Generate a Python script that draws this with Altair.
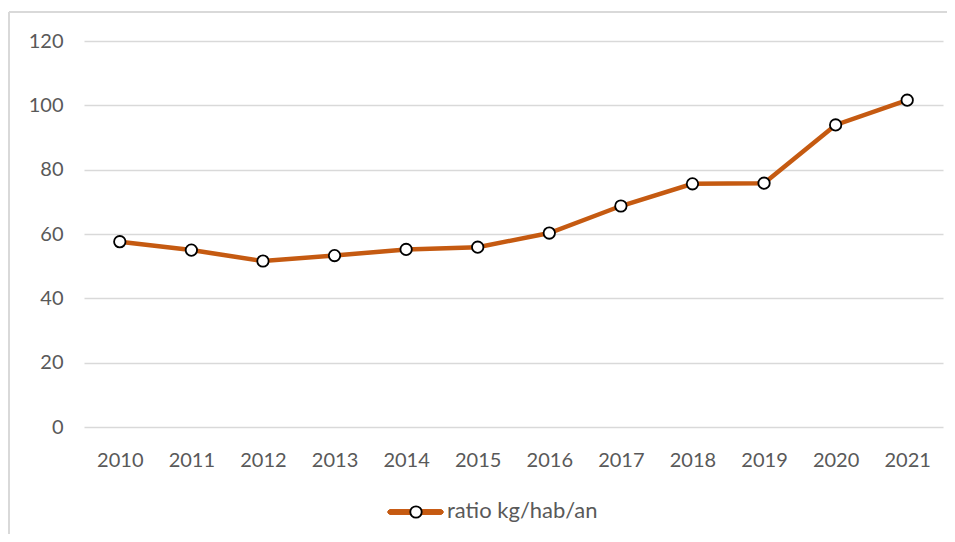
import altair as alt
import pandas as pd

years = ["2010", "2011", "2012", "2013", "2014", "2015", "2016", "2017", "2018", "2019", "2020", "2021"]
ratio = [57.6, 55.0, 51.6, 53.3, 55.2, 55.9, 60.3, 68.7, 75.6, 75.8, 93.9, 101.6]
series_name = "ratio kg/hab/an"

df = pd.DataFrame({"year": years, "ratio": ratio})

ORANGE = "#C55A11"
FONT = "Lato"

x = alt.X("year:N", sort=years, title=None,
          scale=alt.Scale(type="point", padding=0.5),
          axis=alt.Axis(labelAngle=0, ticks=False, domain=False, grid=False,
                        labelFont=FONT, labelFontSize=20, labelColor="#595959", labelPadding=23))
y = alt.Y("ratio:Q", title=None,
          scale=alt.Scale(domain=[0, 120], nice=False),
          axis=alt.Axis(values=[0, 20, 40, 60, 80, 100, 120], ticks=False, domain=False,
                        gridColor="#d9d9d9", gridWidth=1.5,
                        labelFont=FONT, labelFontSize=20, labelColor="#595959", labelPadding=21))

frame_top = alt.Chart(df).mark_rule(stroke="#d9d9d9", strokeWidth=2).encode(
    x=alt.value(-75), x2=alt.value(863), y=alt.value(-29)
)
frame_left = alt.Chart(df).mark_rule(stroke="#d9d9d9", strokeWidth=2).encode(
    x=alt.value(-75), y=alt.value(-29), y2=alt.value(493)
)

line = alt.Chart(df).mark_line(color=ORANGE, strokeWidth=4.5).encode(x=x, y=y)
pts = alt.Chart(df).mark_point(filled=True, fill="white", stroke="black", strokeWidth=1.8,
                               size=130, opacity=1).encode(x=x, y=y)

leg_line = alt.Chart(df).mark_rule(color=ORANGE, strokeWidth=4.5, strokeCap="round").encode(
    x=alt.value(306), x2=alt.value(357), y=alt.value(471)
)
leg_pt = alt.Chart(pd.DataFrame({"a": [0]})).mark_point(
    filled=True, fill="white", stroke="black", strokeWidth=1.8, size=130, opacity=1
).encode(x=alt.value(332), y=alt.value(471))
leg_txt = alt.Chart(pd.DataFrame({"t": [series_name]})).mark_text(
    align="left", baseline="middle", font=FONT, fontSize=22, color="#595959"
).encode(x=alt.value(363), y=alt.value(470), text="t:N")

chart = alt.layer(frame_top, frame_left, line, pts, leg_line, leg_pt, leg_txt).properties(
    width=859, height=386,
    autosize=alt.AutoSizeParams(type="none"),
    padding={"left": 76, "top": 33, "right": 4, "bottom": 107},
).configure_view(stroke=None)

chart.save("out.html", embed_options={"renderer": "svg", "actions": False})
